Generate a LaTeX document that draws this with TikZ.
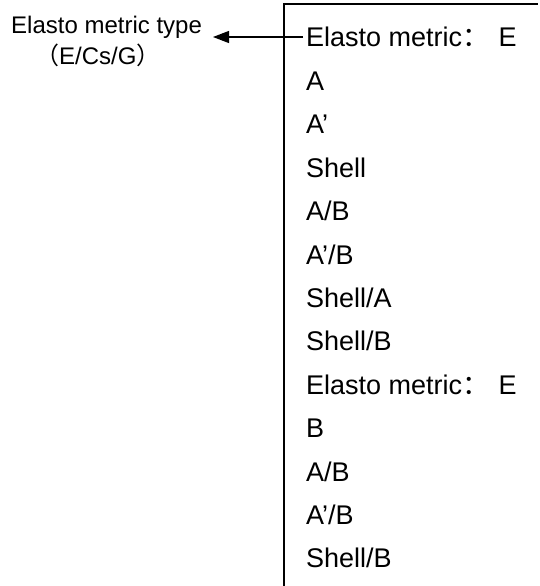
\documentclass[tikz,border=0pt]{standalone}
\usepackage{fontspec}
\setmainfont{Liberation Sans}
\newfontfamily\cjk{Noto Sans CJK SC}
\usetikzlibrary{arrows.meta}
\tikzset{
  item/.style={anchor=base west,inner sep=3pt,font=\fontsize{27}{31}\selectfont},
  typetext/.style={anchor=base west,inner sep=3pt,font=\fontsize{24}{28}\selectfont},
  frameline/.style={line width=1.6pt},
  pointer/.style={line width=1.3pt,-{Triangle[length=16pt,width=12pt]}}
}
\begin{document}
\begin{tikzpicture}[x=1pt,y=-1pt]
\useasboundingbox (0,0) rectangle (539,586);
\draw[frameline] (284,586) -- (284,4) -- (538,4);
\foreach \txt [count=\k from 0] in {{Elasto metric{\cjk ：}\hspace{0.35em}E},A,A’,Shell,A/B,A’/B,Shell/A,Shell/B,{Elasto metric{\cjk ：}\hspace{0.35em}E},B,A/B,A’/B,Shell/B}
  \node[item] (item\k) at (303,{47+43.4*\k}) {\txt};
\node[typetext] (typelabel) at (8,34) {Elasto metric type};
\node[typetext] (typesub) at (32,64) {{\cjk （}E/Cs/G{\cjk ）}};
\coordinate (tip) at (213,37);
\draw[pointer] (item0.west |- 0,37) -- (tip);
\end{tikzpicture}
\end{document}
